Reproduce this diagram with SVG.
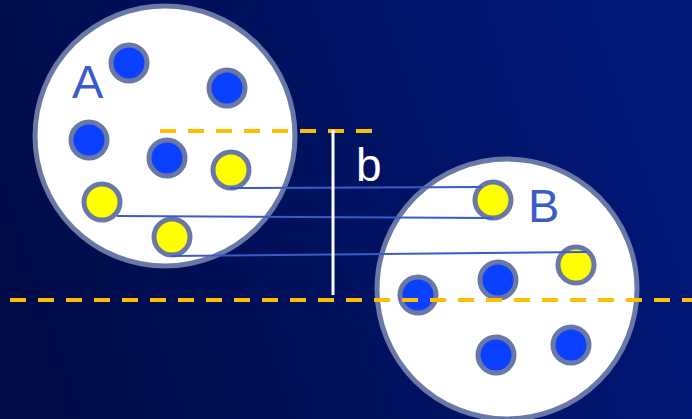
<svg xmlns="http://www.w3.org/2000/svg" width="692" height="419" viewBox="0 0 692 419">
<defs>
<linearGradient id="bg" x1="0" y1="0.6" x2="1" y2="0.4">
<stop offset="0" stop-color="#000b48"/>
<stop offset="1" stop-color="#001878"/>
</linearGradient>
<style>
.big{fill:#ffffff;stroke:#6a78a6;stroke-width:5}
.blue{fill:#0a40ff;stroke:#6a78a6;stroke-width:5}
.yel{fill:#ffff00;stroke:#6a78a6;stroke-width:5}
.link{stroke:#3a5cc8;stroke-width:2;fill:none}
.dash{stroke:#ffbf00;stroke-width:4;stroke-dasharray:16 12;fill:none}
.lbl{font-family:"Liberation Sans",Arial,sans-serif;font-size:47px;fill:#3a5cc8}
</style>
</defs>
<rect width="692" height="419" fill="url(#bg)"/>
<g id="setA">
<circle class="big" cx="165" cy="136" r="130"/>
<text class="lbl" x="72" y="98">A</text>
<circle class="blue" cx="129" cy="63" r="18"/>
<circle class="blue" cx="227" cy="88" r="18"/>
<circle class="blue" cx="89" cy="140" r="18"/>
<circle class="blue" cx="167" cy="158" r="18"/>
<circle class="yel" cx="231" cy="170" r="18"/>
<circle class="yel" cx="102" cy="202" r="18"/>
<circle class="yel" cx="172" cy="237" r="18"/>
</g>
<g id="setB">
<circle class="big" cx="507" cy="289" r="130"/>
<text class="lbl" x="528" y="222">B</text>
<circle class="yel" cx="493" cy="200" r="18"/>
<circle class="yel" cx="576" cy="265" r="18"/>
<circle class="blue" cx="418" cy="295" r="18"/>
<circle class="blue" cx="498" cy="280" r="18"/>
<circle class="blue" cx="496" cy="355" r="18"/>
<circle class="blue" cx="571" cy="345" r="18"/>
</g>
<g id="connectors">
<line class="link" x1="230" y1="188" x2="482" y2="187"/>
<line class="link" x1="117" y1="216" x2="493" y2="218"/>
<line class="link" x1="172" y1="256" x2="587" y2="252"/>
<line class="dash" x1="160" y1="131" x2="375" y2="131"/>
<line class="dash" x1="10" y1="300" x2="692" y2="300"/>
<line x1="333" y1="130" x2="333" y2="295" stroke="#ffffff" stroke-width="3"/>
</g>
<text x="356" y="181" font-family="Liberation Sans, Arial, sans-serif" font-size="46" fill="#ffffff">b</text>
</svg>
